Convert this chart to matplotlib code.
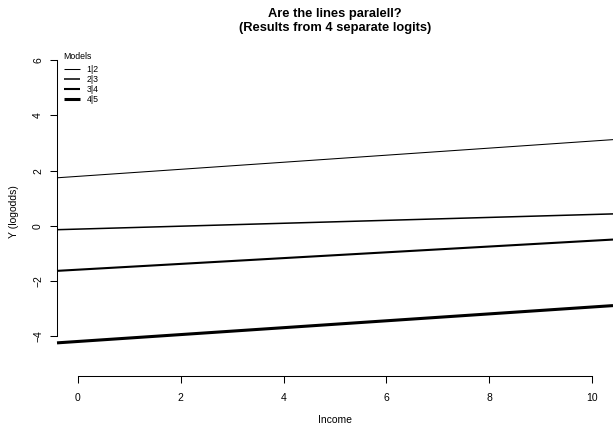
import matplotlib
matplotlib.use("Agg")
import matplotlib.pyplot as plt
import numpy as np

plt.rcParams['font.family'] = ['Liberation Sans', 'DejaVu Sans']

models = ["1|2", "2|3", "3|4", "4|5"]
intercepts = [1.79, -0.12, -1.59, -4.19]
slopes = [0.128, 0.053, 0.105, 0.125]
line_widths = [0.75, 1.1, 1.5, 2.2]

x_ticks = [0, 2, 4, 6, 8, 10]
y_ticks = [-4, -2, 0, 2, 4, 6]

W, H = 613, 426
fig = plt.figure(figsize=(W / 100, H / 100), dpi=100)
left, right, top, bottom = 57, 613, 48, 376
ax = fig.add_axes([left / W, (H - bottom) / H, (right - left) / W, (bottom - top) / H])
ax.set_xlim(-0.4, 10.4)
ax.set_ylim(-5.44, 6.44)

xs = np.array(ax.get_xlim())
for name, a, b, lw in zip(models, intercepts, slopes, line_widths):
    ax.plot(xs, a + b * xs, color='black', lw=lw, label=name, solid_capstyle='butt', clip_on=False)

for s in ['top', 'right']:
    ax.spines[s].set_visible(False)
ax.spines['left'].set_bounds(-4, 6)
ax.spines['bottom'].set_bounds(0, 10)
ax.spines['left'].set_linewidth(0.75)
ax.spines['bottom'].set_linewidth(0.75)
ax.set_xticks(x_ticks)
ax.set_yticks(y_ticks)
ax.set_xticklabels([str(v) for v in x_ticks])
ax.set_yticklabels([str(v) if v >= 0 else '\u2212' + str(-v) for v in y_ticks], rotation=90, va='center')
ax.tick_params(direction='out', length=5, width=0.75, labelsize=7.5, pad=7)
ax.tick_params(axis='y', pad=5)

ax.set_xlabel('Income', fontsize=7.5, labelpad=9)
ax.set_ylabel('Y (logodds)', fontsize=7.5, labelpad=10)
ax.set_title('Are the lines paralell?\n(Results from 4 separate logits)', fontsize=9.3, fontweight='bold', pad=12, linespacing=1.25)

leg = ax.legend(title='Models', loc='upper left', bbox_to_anchor=(5 / 556, 1 - 2 / 328), frameon=False,
                fontsize=6.3, title_fontsize=6.3, handlelength=1.85, handletextpad=0.75,
                labelspacing=0.12, borderpad=0.2, borderaxespad=0, alignment='left')
for t in leg.get_texts():
    t.set_ha('left')
leg._legend_box.sep = 3

fig.savefig('out.png', dpi=100)
